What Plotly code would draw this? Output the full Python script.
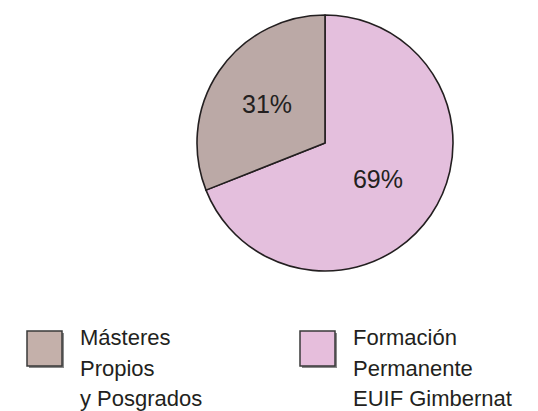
import plotly.graph_objects as go

# ---- data ----
labels = ["Formación Permanente EUIF Gimbernat", "Másteres Propios y Posgrados"]
values = [69, 31]
legend_labels = ["Másteres Propios y Posgrados", "Formación Permanente EUIF Gimbernat"]
legend_lines = [["Másteres", "Propios", "y Posgrados"],
                ["Formación", "Permanente", "EUIF Gimbernat"]]
slice_colors = ["#e4bfdd", "#bba9a6"]
legend_colors = ["#c4b0aa", "#e6bedc"]

W, H = 538, 411
TXT = "#231f20"
FONT = "Liberation Sans, Arial, Helvetica, sans-serif"

def px(x):
    return x / W

def py(y):
    return 1 - y / H

fig = go.Figure(go.Pie(
    labels=labels,
    values=values,
    sort=False,
    direction="clockwise",
    rotation=0,
    marker=dict(colors=slice_colors, line=dict(color=TXT, width=1.6)),
    textinfo="percent",
    texttemplate="%{percent:.0%}",
    textposition="inside",
    insidetextorientation="horizontal",
    textfont=dict(family=FONT, size=25, color=TXT),
    hoverinfo="label+percent",
    domain=dict(x=[px(197), px(453)], y=[py(271), py(15)]),
    showlegend=False,
))

shapes = []
annotations = []
sq_x = [27, 300]
txt_x = [78, 351]
sq_top, sq_size = 331, 35
line_centers = [337, 368, 398]
for i in range(2):
    x0 = sq_x[i]
    # shadow
    shapes.append(dict(type="rect", xref="paper", yref="paper",
                       x0=px(x0 + 2), x1=px(x0 + sq_size + 2),
                       y0=py(sq_top + sq_size + 2), y1=py(sq_top + 2),
                       fillcolor="#8a8a8a", line=dict(width=0)))
    shapes.append(dict(type="rect", xref="paper", yref="paper",
                       x0=px(x0), x1=px(x0 + sq_size),
                       y0=py(sq_top + sq_size), y1=py(sq_top),
                       fillcolor=legend_colors[i],
                       line=dict(color="#3a3a3a", width=1.5)))
    for j, line in enumerate(legend_lines[i]):
        annotations.append(dict(
            text=line, xref="paper", yref="paper",
            x=px(txt_x[i]), y=py(line_centers[j]),
            xanchor="left", yanchor="middle", showarrow=False,
            font=dict(family=FONT, size=22, color=TXT),
        ))

fig.update_layout(
    width=W, height=H,
    margin=dict(l=0, r=0, t=0, b=0),
    paper_bgcolor="white",
    plot_bgcolor="white",
    shapes=shapes,
    annotations=annotations,
)

fig.write_html("out.html",
               config={"displayModeBar": False},
               post_script="document.body.style.margin='0';document.body.style.overflow='hidden';")
